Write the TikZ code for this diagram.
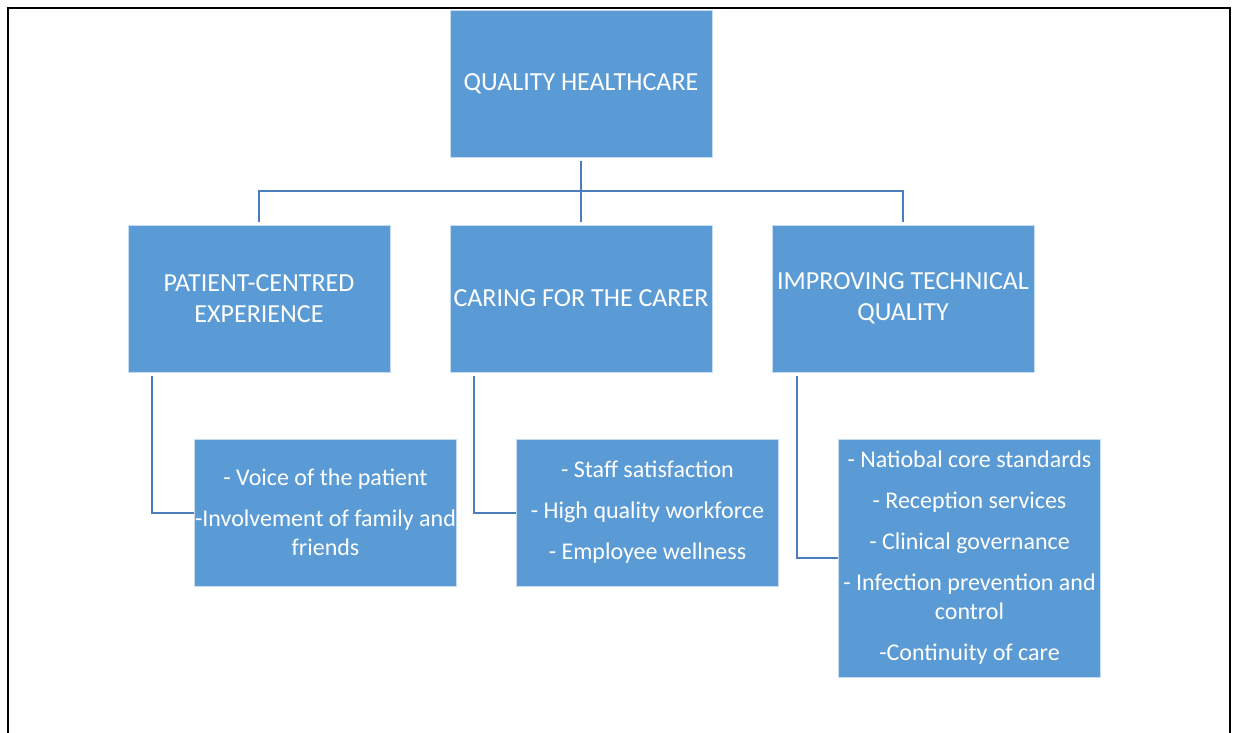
\documentclass[tikz,border=0pt]{standalone}
\usepackage{fontspec}
\setmainfont{Carlito}
\definecolor{boxblue}{HTML}{5B9BD5}
\definecolor{linkblue}{HTML}{4A7EBB}
\begin{document}
\begin{tikzpicture}[x=1pt,y=-1pt,
  head/.style={fill=boxblue, draw=boxblue!35, line width=0.8pt,
    minimum width=262pt, minimum height=147pt, inner sep=0pt,
    text=white, align=center, font=\fontsize{26}{31}\selectfont},
  item/.style={head, font=\fontsize{24}{29}\selectfont},
  link/.style={draw=linkblue, line width=2pt}]
  \useasboundingbox (0,0) rectangle (1236,733);
  % page frame
  \draw[line width=2.5pt] (8,740) -- (8,8) -- (1230,8) -- (1230,740);

  % top level
  \node[head] (qh) at (581,83.5) {QUALITY HEALTHCARE};

  % second level
  \node[head] (pce) at (259,298.5) {PATIENT-CENTRED\\EXPERIENCE};
  \node[head] (care) at (581,298.5) {CARING FOR THE CARER};
  \node[head] (tech) at (903,298.5) {IMPROVING TECHNICAL\\QUALITY};

  % lists
  \node[item] (voice) at (325.5,512.5)
    {- Voice of the patient\\[12pt]-Involvement of family and\\friends};
  \node[item] (staff) at (647.5,512.5)
    {- Staff satisfaction\\[12pt]- High quality workforce\\[12pt]- Employee wellness};
  \node[item, minimum height=238pt] (std) at (969.5,558)
    {- Natiobal core standards\\[12pt]- Reception services\\[12pt]- Clinical governance\\[12pt]- Infection prevention and\\control\\[12pt]-Continuity of care};

  % tree connectors
  \draw[link, shorten <=4pt, shorten >=3pt] (qh.south) -- (care.north);
  \draw[link] ([yshift=-34pt]qh.south) -| ([yshift=3pt]pce.north);
  \draw[link] ([yshift=-34pt]qh.south) -| ([yshift=3pt]tech.north);

  % elbows down to the lists
  \draw[link] ([xshift=24pt,yshift=-4pt]pce.south west) |- (voice.west);
  \draw[link] ([xshift=24pt,yshift=-4pt]care.south west) |- (staff.west);
  \draw[link] ([xshift=25pt,yshift=-4pt]tech.south west) |- (std.west);
\end{tikzpicture}
\end{document}
